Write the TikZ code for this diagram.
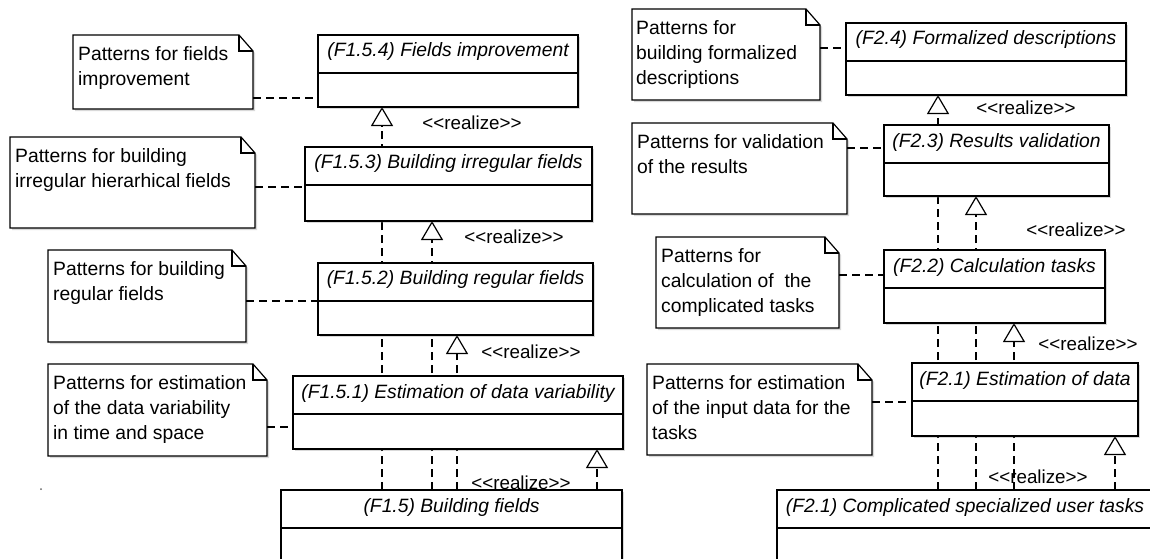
\documentclass[tikz,border=0pt]{standalone}
\usepackage{fontspec}
\setmainfont{Liberation Sans}
\usepackage{tikz}
\usetikzlibrary{arrows.meta, positioning, calc, shadows}
\pgfdeclarelayer{background}
\pgfsetlayers{background,main}

\begin{document}
\begin{tikzpicture}[x=1pt, y=-1pt,
    cls/.style={draw, fill=white, line width=1.2pt, anchor=north west,
      inner sep=0pt, outer sep=0pt, drop shadow={shadow xshift=2pt,
      shadow yshift=-2pt, opacity=.3}},
    clstitle/.style={font=\fontsize{19.3pt}{25pt}\selectfont\itshape,
      inner sep=0pt},
    note/.style={anchor=north west, inner sep=0pt, outer sep=0pt},
    noteline/.style={draw, fill=white, line width=1.2pt, drop
      shadow={shadow xshift=2pt, shadow yshift=-2pt, opacity=.3}},
    notetext/.style={anchor=north west, align=left, inner sep=0pt,
      font=\fontsize{19.3pt}{25pt}\selectfont},
    deps/.style={line width=1.2pt, dash pattern=on 8pt off 5pt},
    realize/.style={deps, -{Triangle[open, length=19pt, width=22pt]}},
    realizelabel/.style={font=\fontsize{18.8pt}{25pt}\selectfont,
      inner sep=0pt} ]
    \useasboundingbox (0,0) rectangle (1150,558);

    % Notes
    \node[note, minimum width=180pt, minimum height=74pt] (nA) at (73,35) {};
    \node[note, minimum width=245pt, minimum height=91pt] (nB) at (10,137) {};
    \node[note, minimum width=198pt, minimum height=92pt] (nC) at (48,250) {};
    \node[note, minimum width=219pt, minimum height=92pt] (nD) at (48,364) {};
    \node[note, minimum width=188pt, minimum height=91pt] (nE) at (632,9) {};
    \node[note, minimum width=215pt, minimum height=91pt] (nF) at (632,123) {};
    \node[note, minimum width=183pt, minimum height=91pt] (nG) at (656,237) {};
    \node[note, minimum width=225pt, minimum height=91pt] (nH) at (647,364) {};
    \foreach \n in {nA,nB,nC,nD,nE,nF,nG,nH} {
      \draw[noteline] (\n.north west) -- ([xshift=-14pt]\n.north east) --
      ([yshift=-16pt]\n.north east) -- (\n.south east) -- (\n.south west) -- cycle;
      \draw[line width=1.2pt] ([xshift=-14pt]\n.north east) |- ([yshift=-16pt]\n.north east);
    }

    % Note texts
    \node[notetext] (tA) at ([xshift=5pt, yshift=-11pt]nA.north west) {Patterns for fields\\improvement};
    \node[notetext] (tB) at ([xshift=5pt, yshift=-11pt]nB.north west) {Patterns for building\\irregular hierarhical fields};
    \node[notetext] (tC) at ([xshift=5pt, yshift=-11pt]nC.north west) {Patterns for building\\regular fields};
    \node[notetext] (tD) at ([xshift=5pt, yshift=-11pt]nD.north west) {Patterns for estimation\\of the data variability\\in time and space};
    \node[notetext] (tE) at ([xshift=4pt, yshift=-11pt]nE.north west) {Patterns for\\building formalized\\descriptions};
    \node[notetext] (tF) at ([xshift=5pt, yshift=-11pt]nF.north west) {Patterns for validation\\of the results};
    \node[notetext] (tG) at ([xshift=5pt, yshift=-11pt]nG.north west) {Patterns for\\calculation of \ the\\complicated tasks};
    \node[notetext] (tH) at ([xshift=5pt, yshift=-11pt]nH.north west) {Patterns for estimation\\of the input data for the\\tasks};

    % Classes
    \node[cls, minimum width=260pt, minimum height=72pt] (c154) at (318,35) {};
    \node[cls, minimum width=287pt, minimum height=74pt] (c153) at (305,147) {};
    \node[cls, minimum width=275pt, minimum height=72pt] (c152) at (318,263) {};
    \node[cls, minimum width=330pt, minimum height=73pt] (c151) at (293,376) {};
    \node[cls, minimum width=341pt, minimum height=110pt] (c15) at (281,490) {};
    \node[cls, minimum width=280pt, minimum height=72pt] (c24) at (846,23) {};
    \node[cls, minimum width=225pt, minimum height=71pt] (c23) at (884,125) {};
    \node[cls, minimum width=221pt, minimum height=73pt] (c22) at (884,250) {};
    \node[cls, minimum width=226pt, minimum height=73pt] (c21) at (912,363) {};
    \node[cls, minimum width=376pt, minimum height=110pt] (c2) at (777,490) {};

    % Class titles and compartments
    \foreach \c/\t in {c154/{(F1.5.4) Fields improvement},
        c153/{(F1.5.3) Building irregular fields},
        c152/{(F1.5.2) Building regular fields},
        c151/{(F1.5.1) Estimation of data variability},
        c15/{(F1.5) Building fields},
        c24/{(F2.4) Formalized descriptions},
        c23/{(F2.3) Results validation},
        c22/{(F2.2) Calculation tasks},
        c21/{(F2.1) Estimation of data},
        c2/{(F2.1) Complicated specialized user tasks}} {
      \node[clstitle] (t\c) at ([yshift=-17pt]\c.north) {\t};
      \draw[line width=1.2pt] ([yshift=-38pt]\c.north west) -- ([yshift=-38pt]\c.north east);
    }

    % Realizations (behind the classes)
    \begin{pgfonlayer}{background}
      \draw[realize] (382,0 |- c15.north) -- (382,0 |- c154.south);
      \draw[realize] (432,0 |- c15.north) -- (432,0 |- c153.south);
      \draw[realize] (457,0 |- c15.north) -- (457,0 |- c152.south);
      \draw[realize] (597,0 |- c15.north) -- (597,0 |- c151.south);
      \draw[realize] (938,0 |- c2.north) -- (938,0 |- c24.south);
      \draw[realize] (976,0 |- c2.north) -- (976,0 |- c23.south);
      \draw[realize] (1014,0 |- c2.north) -- (1014,0 |- c22.south);
      \draw[realize] (1115,0 |- c2.north) -- (1115,0 |- c21.south);
    \end{pgfonlayer}

    % Stereotype labels
    \node[realizelabel] (rA) at (472,123) {<{}<realize>{}>};
    \node[realizelabel] (rB) at (514,237) {<{}<realize>{}>};
    \node[realizelabel] (rC) at (531,352) {<{}<realize>{}>};
    \node[realizelabel] (rD) at (521,483) {<{}<realize>{}>};
    \node[realizelabel] (rE) at (1026,108) {<{}<realize>{}>};
    \node[realizelabel] (rF) at (1076,230) {<{}<realize>{}>};
    \node[realizelabel] (rG) at (1088,344) {<{}<realize>{}>};
    \node[realizelabel] (rH) at (1038,477) {<{}<realize>{}>};
    \draw[deps] (1014,0 |- rH.north) -- (1014,0 |- rH.south);

    % Note anchors
    \draw[deps] (nA.east |- 0,98) -- (c154.west |- 0,98);
    \draw[deps] (nB.east |- 0,187) -- (c153.west |- 0,187);
    \draw[deps] (nC.east |- 0,301) -- (c152.west |- 0,301);
    \draw[deps] (nD.east |- 0,427) -- (c151.west |- 0,427);
    \draw[deps] (nE.east |- 0,48) -- (c24.west |- 0,48);
    \draw[deps] (nF.east |- 0,148) -- (c23.west |- 0,148);
    \draw[deps] (nG.east |- 0,275) -- (c22.west |- 0,275);
    \draw[deps] (nH.east |- 0,402) -- (c21.west |- 0,402);

    \fill[black!60] (41,489) circle (1pt);
\end{tikzpicture}
\end{document}
